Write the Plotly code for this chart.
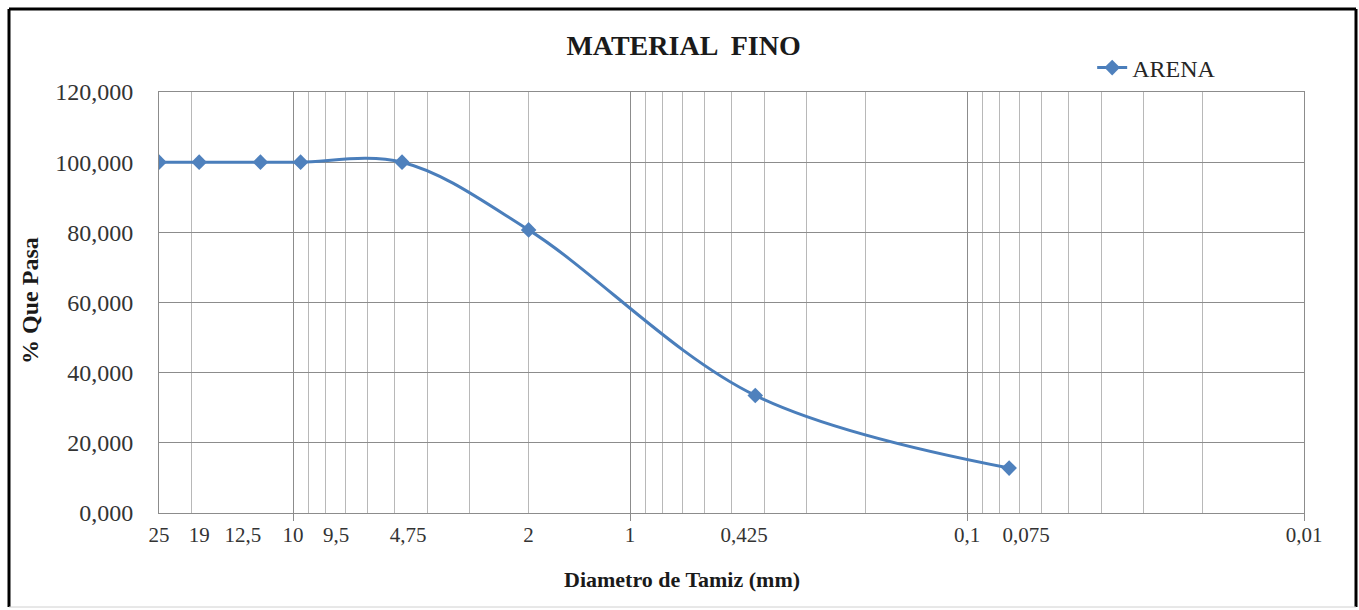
import plotly.graph_objects as go

# Sieve analysis of fine aggregate (sand)
sieve_mm = [25, 19, 12.5, 9.5, 4.75, 2, 0.425, 0.075]
pct_passing = [100, 100, 100, 100, 100, 80.7, 33.5, 12.8]

# Labels printed under the axis and where they sit along it
tick_text = ["25", "19", "12,5", "10", "9,5", "4,75", "2", "1", "0,425", "0,1", "0,075", "0,01"]
tick_at = [25, 19, 14.1, 10, 7.45, 4.56, 2, 1, 0.459, 0.1, 0.0668, 0.01]

decades = [10, 1, 0.1, 0.01]
grid_vals = [k * d for d in decades for k in range(1, 10) if k * d <= 25]

SERIF = "Liberation Serif, Times New Roman, serif"
LINE_BLUE = "#4A7EBB"
MARK_BLUE = "#4F81BD"
GRID = "#b8b8b8"
GRID_MAJOR = "#8c8c8c"

fig = go.Figure()

fig.add_trace(go.Scatter(
    x=sieve_mm, y=pct_passing, name="ARENA",
    mode="lines+markers",
    line=dict(color=LINE_BLUE, width=3, shape="spline", smoothing=1),
    marker=dict(symbol="diamond", size=12, color=MARK_BLUE),
))
# helper trace that carries the log grid axis
fig.add_trace(go.Scatter(
    x=sieve_mm, y=pct_passing, xaxis="x2", mode="markers",
    marker=dict(opacity=0), showlegend=False, hoverinfo="skip",
))

x_range = [1.39794, -2]

fig.update_layout(
    width=1359, height=610,
    margin=dict(l=159, r=55, t=92, b=97),
    paper_bgcolor="white", plot_bgcolor="white",
    separators=",.",
    font=dict(family=SERIF, color="#262626"),
    title=dict(text="<b>MATERIAL  FINO</b>", x=0.503, xanchor="center",
               y=1 - 45 / 610, yanchor="middle", yref="container",
               font=dict(family=SERIF, size=28, color="#1a1a1a")),
    xaxis=dict(
        type="log", range=x_range,
        tickmode="array", tickvals=tick_at, ticktext=tick_text,
        ticks="", showgrid=False, zeroline=False,
        showline=True, linecolor=GRID_MAJOR, mirror=True,
        tickfont=dict(family=SERIF, size=21, color="#333333"),
        ticklabelstandoff=3,
    ),
    xaxis2=dict(
        type="log", range=x_range, overlaying="x", anchor="y", side="bottom",
        tickmode="array", tickvals=decades, showticklabels=False,
        ticks="outside", ticklen=7, tickcolor=GRID_MAJOR,
        showgrid=True, gridcolor=GRID_MAJOR, gridwidth=1,
        minor=dict(tickmode="array", tickvals=grid_vals, showgrid=True,
                   gridcolor=GRID, gridwidth=1, ticks=""),
        zeroline=False,
    ),
    yaxis=dict(
        range=[0, 120], tickmode="linear", tick0=0, dtick=20,
        tickformat=".3f", showgrid=True, gridcolor=GRID_MAJOR,
        zeroline=False, showline=True, linecolor=GRID_MAJOR, mirror=True,
        ticks="", tickfont=dict(family=SERIF, size=24, color="#333333"),
        ticklabelstandoff=20,
    ),
    legend=dict(x=0.815, y=1.057, xanchor="left", yanchor="middle",
                font=dict(family=SERIF, size=24, color="#262626"),
                bgcolor="rgba(0,0,0,0)"),
    showlegend=True,
)

fig.add_annotation(text="<b>Diametro de Tamiz (mm)</b>", xref="paper", yref="paper",
                   x=0.457, y=-0.159, showarrow=False, xanchor="center", yanchor="middle",
                   font=dict(family=SERIF, size=22, color="#1a1a1a"))
fig.add_annotation(text="<b>% Que Pasa</b>", xref="paper", yref="paper",
                   x=-0.1127, y=0.506, showarrow=False, textangle=-90,
                   xanchor="center", yanchor="middle",
                   font=dict(family=SERIF, size=24, color="#1a1a1a"))

# outer chart frame
fx0, fx1 = (9 - 159) / 1145, (1356 - 159) / 1145
fy0, fy1 = (513 - 607) / 421, (513 - 9) / 421
for (a, b, c, d, col, w) in [
    (fx0, fy0, fx0, fy1, "black", 3),
    (fx1, fy0, fx1, fy1, "black", 3),
    (fx0, fy1, fx1, fy1, "black", 3),
    (fx0, fy0, fx1, fy0, "#d0d0d0", 1),
]:
    fig.add_shape(type="line", xref="paper", yref="paper",
                  x0=a, y0=b, x1=c, y1=d, line=dict(color=col, width=w))

fig.write_html("out.html")
